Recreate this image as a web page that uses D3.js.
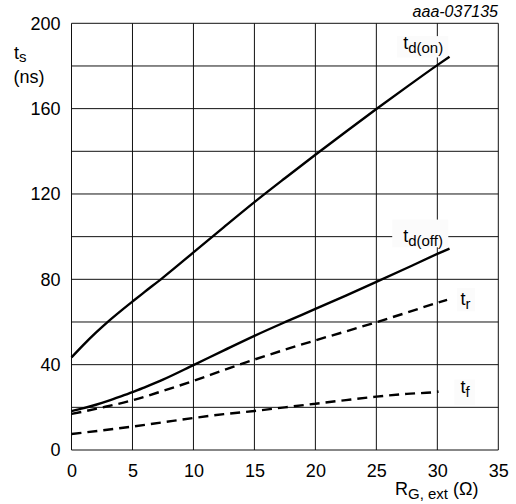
<!DOCTYPE html>
<html>
<head>
<meta charset="utf-8">
<script src="https://cdn.jsdelivr.net/npm/d3@7"></script>
<style>
  html, body { margin: 0; padding: 0; background: #fff; }
  svg { display: block; font-family: "Liberation Sans", Arial, sans-serif; }
</style>
</head>
<body>
<svg id="chart" width="516" height="504"></svg>
<script>
// ---- data ----
const xGridTicks = [0, 5, 10, 15, 20, 25, 30, 35];
const yGridTicks = [0, 20, 40, 60, 80, 100, 120, 140, 160, 180, 200];
const yLabelTicks = [0, 40, 80, 120, 160, 200];

const rg = [0, 1, 2, 3, 4, 5, 6, 7.5, 10, 12.5, 15, 17.5, 20, 22.5, 25, 27.5, 30, 31];
const tdOn  = [43.4, 49.4, 55.0, 60.2, 65.0, 69.6, 74.1, 80.8, 92.6, 104.5, 116.2, 127.4, 138.4, 149.2, 159.8, 170.2, 180.4, 184.3];
const tdOff = [18.2, 19.6, 21.2, 23.0, 25.0, 27.1, 29.4, 33.0, 39.8, 46.7, 53.5, 59.9, 66.1, 72.4, 78.8, 85.3, 91.9, 94.4];

const rgR = [0, 2.5, 5, 7.5, 10, 12.5, 15, 17.5, 20, 22.5, 25, 27.5, 30, 30.8];
const tr  = [16.9, 19.9, 23.3, 27.7, 32.4, 37.5, 42.4, 47.0, 51.4, 55.6, 59.9, 64.4, 69.0, 70.4];
const rgF = [0, 2.5, 5, 7.5, 10, 12.5, 15, 17.5, 20, 22.5, 25, 27.5, 30, 30.1];
const tf  = [7.5, 9.2, 11.0, 13.0, 15.0, 16.8, 18.3, 20.0, 21.7, 23.4, 25.0, 26.3, 27.3, 27.4];

// ---- layout ----
const svg = d3.select("#chart");
const x = d3.scaleLinear().domain([0, 35]).range([71.5, 498.3]);
const y = d3.scaleLinear().domain([0, 200]).range([450, 23.3]);
const FONT = 18;

// grid
svg.append("g").selectAll("line").data(xGridTicks).join("line")
  .attr("x1", d => x(d)).attr("x2", d => x(d))
  .attr("y1", y(0)).attr("y2", y(200))
  .attr("stroke", "#111").attr("stroke-width", 1);
svg.append("g").selectAll("line").data(yGridTicks).join("line")
  .attr("x1", x(0)).attr("x2", x(35))
  .attr("y1", d => y(d)).attr("y2", d => y(d))
  .attr("stroke", "#111").attr("stroke-width", 1);

// axes labels (tick text only)
const yAxis = d3.axisLeft(y).tickValues(yLabelTicks).tickSize(0).tickPadding(11).tickFormat(d3.format("d"));
const gy = svg.append("g").attr("transform", `translate(${x(0)},0)`).call(yAxis);
gy.select(".domain").remove();
gy.selectAll("text").attr("font-size", FONT).attr("fill", "#000").attr("font-family", "Liberation Sans, Arial, sans-serif");

const xAxis = d3.axisBottom(x).tickValues(xGridTicks).tickSize(0).tickPadding(14).tickFormat(d3.format("d"));
const gx = svg.append("g").attr("transform", `translate(0,${y(0)})`).call(xAxis);
gx.select(".domain").remove();
gx.selectAll("text").attr("font-size", FONT).attr("fill", "#000").attr("font-family", "Liberation Sans, Arial, sans-serif");

// label background boxes (hide grid lines behind curve labels)
const labels = [
  { main: "t", sub: "d(on)",  x: 27.2, y: 188,  box: [26.7, 30.9, 194, 184] },
  { main: "t", sub: "d(off)", x: 27.2, y: 97.5, box: [26.3, 30.9, 108, 95] },
  { main: "t", sub: "r",      x: 31.9, y: 68,   box: [31.6, 33.1, 76, 65] },
  { main: "t", sub: "f",      x: 31.9, y: 26.8, box: [31.4, 33.1, 33, 21] }
];
svg.append("g").selectAll("rect").data(labels).join("rect")
  .attr("x", d => x(d.box[0])).attr("width", d => x(d.box[1]) - x(d.box[0]))
  .attr("y", d => y(d.box[2])).attr("height", d => y(d.box[3]) - y(d.box[2]))
  .attr("fill", "#fbfbfb");

// curves
const line = d3.line().x(d => x(d[0])).y(d => y(d[1])).curve(d3.curveMonotoneX);
const series = [
  { xs: rg,  ys: tdOn,  dash: null },
  { xs: rg,  ys: tdOff, dash: null },
  { xs: rgR, ys: tr,    dash: "10,6" },
  { xs: rgF, ys: tf,    dash: "10,6" }
];
svg.append("g").selectAll("path").data(series).join("path")
  .attr("d", s => line(s.xs.map((v, i) => [v, s.ys[i]])))
  .attr("fill", "none").attr("stroke", "#000").attr("stroke-width", 2.4)
  .attr("stroke-dasharray", s => s.dash);

// curve labels
const lt = svg.append("g").selectAll("text").data(labels).join("text")
  .attr("x", d => x(d.x)).attr("y", d => y(d.y))
  .attr("font-size", FONT).attr("fill", "#000");
lt.append("tspan").text(d => d.main);
lt.append("tspan").attr("dy", 4).attr("font-size", 15).text(d => d.sub);

// axis titles
const yt = svg.append("text").attr("x", 14).attr("y", 59).attr("font-size", FONT);
yt.append("tspan").text("t");
yt.append("tspan").attr("dy", 3).attr("font-size", 15).text("s");
svg.append("text").attr("x", 29).attr("y", 83).attr("text-anchor", "middle")
  .attr("font-size", FONT).text("(ns)");

const xt = svg.append("text").attr("x", 395).attr("y", 494.5).attr("font-size", FONT);
xt.append("tspan").text("R");
xt.append("tspan").attr("dy", 4).attr("font-size", 15).text("G, ext");
xt.append("tspan").attr("dy", -4).text(" (Ω)");

// figure id
svg.append("text").attr("x", 498).attr("y", 17).attr("text-anchor", "end")
  .attr("font-size", 16).attr("font-style", "italic").text("aaa-037135");
</script>
</body>
</html>
